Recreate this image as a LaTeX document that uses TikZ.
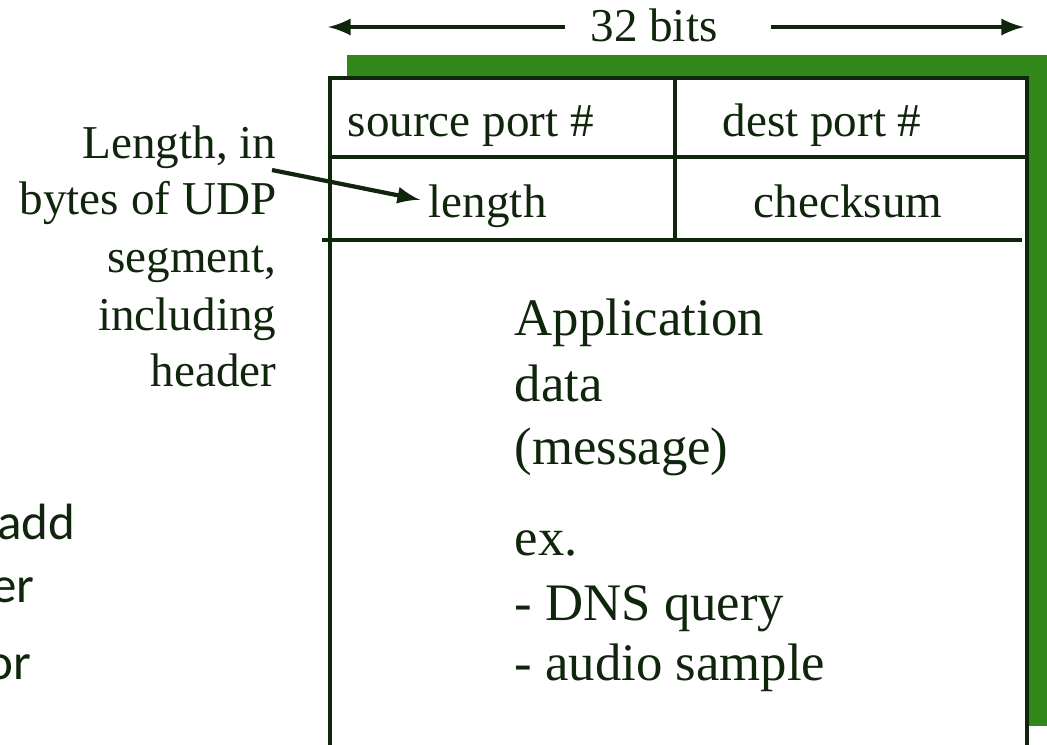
\documentclass[tikz,border=0pt]{standalone}
\usepackage{fontspec}
\setmainfont{Liberation Serif}
\newfontfamily\slidefont{Carlito}
\usetikzlibrary{calc}

\definecolor{udpgreen}{RGB}{49,135,26}
\definecolor{udpink}{RGB}{16,38,12}

\begin{document}
\begin{tikzpicture}[x=0.01cm,y=-0.01cm,
  boxline/.style={udpink, line width=1.2pt},
  hdr/.style={text=udpink, font=\fontsize{13.4}{16}\selectfont, inner sep=0pt},
  body/.style={text=udpink, font=\fontsize{15}{18}\selectfont, inner sep=0pt, anchor=base west},
  side/.style={text=udpink, font=\fontsize{13.4}{16}\selectfont, inner sep=0pt, anchor=base east},
  cut/.style={text=udpink, font=\slidefont\fontsize{14.5}{17}\selectfont, inner sep=0pt, anchor=base east}]

\useasboundingbox (0,0) rectangle (1047,744);

\fill[udpgreen] (347,55) rectangle (1047,726);
\draw[boxline, fill=white] (330,78) rectangle (1027,770);
\draw[boxline] (330,157) -- (1027,157);
\draw[boxline] (322,240) -- (1022,240);
\draw[boxline] (675,78) -- (675,240);

\node[hdr, anchor=base] (bits) at (654,41) {32 bits};
\coordinate (bitsleft) at (328,27);
\coordinate (bitsright) at (1024,27);
\draw[->,>=latex, udpink, line width=1.2pt] ($(bits.west |- bitsleft)+(-25,0)$) -- (bitsleft);
\draw[->,>=latex, udpink, line width=1.2pt] ($(bits.east |- bitsright)+(53,0)$) -- (bitsright);

\node[hdr, anchor=base west] (srcport) at (347,136) {source port \#};
\node[hdr, anchor=base] (dstport) at (822,136) {dest port \#};
\node[hdr, anchor=base west, inner xsep=2.3pt] (length) at (420,217) {length};
\node[hdr, anchor=base] (checksum) at (848,217) {checksum};

\node[body] (app) at (514,335) {Application};
\node[body] (data) at (514,401) {data};
\node[body] (msg) at (514,464) {(message)};
\node[body] (ex) at (514,555) {ex.};
\node[body] (dns) at (514,620) {- DNS query};
\node[body] (audio) at (514,680) {- audio sample};

\node[side] (lenin) at (277,158) {Length, in};
\node[side] (bytes) at (277,214) {bytes of UDP};
\node[side] (segment) at (277,272) {segment,};
\node[side] (incl) at (277,330) {including};
\node[side] (header) at (277,386) {header};
\coordinate (lenfrom) at (272,170);
\draw[->,>=latex, udpink, line width=1.2pt] (lenfrom) -- ($(length.west)+(0,-6)$);

\node[cut] (add) at (76,539) {add};
\node[cut] (er) at (35,602) {er};
\node[cut] (or) at (32,679) {or};

\end{tikzpicture}
\end{document}
